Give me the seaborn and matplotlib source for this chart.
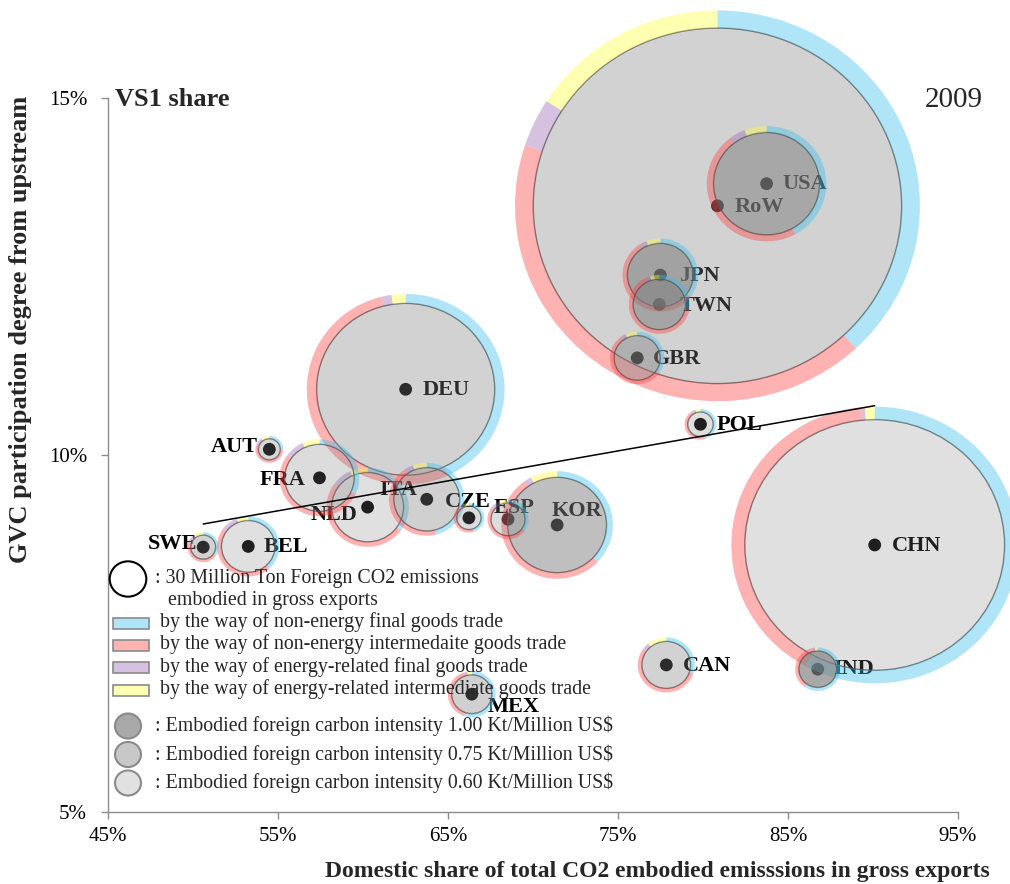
import numpy as np
import pandas as pd
import matplotlib
matplotlib.use("Agg")
import matplotlib.pyplot as plt
import matplotlib.transforms as mtransforms
from matplotlib.patches import Circle, Wedge, Rectangle
from matplotlib.ticker import FuncFormatter
import seaborn as sns

# ---------------- data ----------------
countries = ["RoW", "USA", "JPN", "TWN", "GBR", "DEU", "AUT", "FRA", "NLD", "ITA",
             "CZE", "ESP", "KOR", "POL", "CHN", "IND", "CAN", "MEX", "SWE", "BEL"]
domestic_share = [80.85, 83.74, 77.49, 77.43, 76.13, 62.51, 54.49, 57.44, 60.27, 63.75,
                  66.23, 68.53, 71.42, 79.85, 90.10, 86.75, 77.84, 66.40, 50.60, 53.25]
vs1_share = [13.49, 13.80, 12.52, 12.11, 11.36, 10.92, 10.08, 9.68, 9.27, 9.38,
             9.12, 9.10, 9.02, 10.43, 8.74, 7.00, 7.06, 6.65, 8.71, 8.72]
foreign_co2_mt = [302, 87, 54, 43, 38, 146, 18, 57, 59, 54,
                  20, 28, 81, 21, 213, 31, 40, 33, 20.5, 44]
carbon_intensity = [0.69, 0.84, 0.90, 0.87, 0.73, 0.69, 0.66, 0.63, 0.61, 0.70,
                    0.64, 0.63, 0.82, 0.62, 0.61, 1.00, 0.69, 0.70, 0.69, 0.61]
share_nonenergy_final = [0.38, 0.42, 0.35, 0.28, 0.35, 0.43, 0.25, 0.32, 0.35, 0.46,
                         0.45, 0.35, 0.37, 0.45, 0.58, 0.60, 0.30, 0.55, 0.35, 0.38]
share_nonenergy_inter = [0.42, 0.475, 0.56, 0.65, 0.55, 0.53, 0.55, 0.53, 0.50, 0.44,
                         0.45, 0.50, 0.53, 0.45, 0.405, 0.37, 0.55, 0.40, 0.45, 0.47]
share_energy_final = [0.04, 0.045, 0.03, 0.02, 0.03, 0.017, 0.10, 0.08, 0.08, 0.04,
                      0.04, 0.08, 0.022, 0.05, 0.004, 0.01, 0.04, 0.02, 0.10, 0.09]
share_energy_inter = [0.16, 0.06, 0.06, 0.05, 0.07, 0.023, 0.10, 0.07, 0.07, 0.06,
                      0.06, 0.07, 0.078, 0.05, 0.011, 0.02, 0.11, 0.03, 0.10, 0.06]
x_ticks = [45, 55, 65, 75, 85, 95]
y_ticks = [5, 10, 15]
legend_size_mt = 30
legend_intensities = [1.00, 0.75, 0.60]
channel_labels = ["by the way of non-energy final goods trade",
                  "by the way of non-energy intermedaite goods trade",
                  "by the way of energy-related final goods trade",
                  "by the way of energy-related intermediate goods trade"]

df = pd.DataFrame({"country": countries, "x": domestic_share, "y": vs1_share,
                   "co2": foreign_co2_mt, "intensity": carbon_intensity,
                   "s1": share_nonenergy_final, "s2": share_nonenergy_inter,
                   "s3": share_energy_final, "s4": share_energy_inter})

# ---------------- style ----------------
W, H = 1010, 884
sns.set_theme(style="ticks")
plt.rcParams["font.family"] = ["Liberation Serif", "DejaVu Serif"]
plt.rcParams["mathtext.default"] = "regular"

ring_colors = [(0.225, 0.75, 0.925, 0.4), (1.0, 0.25, 0.25, 0.4),
               (0.6, 0.4, 0.7, 0.4), (1.0, 1.0, 0.25, 0.4)]
PX_PER_MT = 18.3 / 30.0      # radius in pixels per Mt
SQUISH = 0.965


def fill_alpha(v):
    return float(np.interp(v, [0.6, 0.75, 1.0], [0.23, 0.43, 0.68]))


fig = plt.figure(figsize=(W / 100, H / 100), dpi=100)
ax = fig.add_axes([108 / W, (H - 812) / H, 850 / W, 714 / H])
ax.set_xlim(45, 95)
ax.set_ylim(5, 15)

label_style = {  # dx, dy (pixels, image orientation), ha
    "USA": (16, 0, "left"), "RoW": (17, 1, "left"), "JPN": (19, 1, "left"),
    "TWN": (20, 2, "left"), "GBR": (16, 1, "left"), "DEU": (17, 1, "left"),
    "POL": (16, 1, "left"), "CHN": (17, 1, "left"), "IND": (16, 0, "left"),
    "CAN": (17, 1, "left"), "MEX": (16, 13, "left"), "KOR": (-6, -14, "left"),
    "ESP": (-14, -11, "left"), "CZE": (-24, -16, "left"), "ITA": (-10, -9, "right"),
    "NLD": (-10, 8, "right"), "FRA": (-14, 2, "right"), "AUT": (-12, -2, "right"),
    "SWE": (-6, -3, "right"), "BEL": (15, 1, "left"),
}

# labels (drawn beneath the translucent bubbles)
for _, row in df.iterrows():
    dx, dy, ha = label_style[row.country]
    ax.annotate(row.country, (row.x, row.y), xytext=(dx, -dy), textcoords="offset pixels",
                ha=ha, va="center", fontsize=16, fontweight="bold", color="black",
                zorder=1, annotation_clip=False)

# centre dots
sns.scatterplot(data=df, x="x", y="y", ax=ax, color="black", s=85,
                edgecolor="none", zorder=1.5, legend=False)

# bubbles
order = df.sort_values("co2", ascending=False).index
for rank, i in enumerate(order):
    row = df.loc[i]
    r = row.co2 * PX_PER_MT
    tr = mtransforms.Affine2D().scale(1.0, SQUISH) + \
        mtransforms.ScaledTranslation(row.x, row.y, ax.transData)
    z = 3 + rank * 0.01
    fill = Circle((0, 0), r, facecolor=(0.5, 0.5, 0.5, fill_alpha(row.intensity)),
                  edgecolor=(0.3, 0.3, 0.3, 0.75), lw=1.0, transform=tr,
                  clip_on=False, zorder=z)
    ax.add_artist(fill)
    shares = [row.s1, row.s2, row.s3, row.s4]
    shares = np.array(shares) / np.sum(shares)
    width = 0.088 * r + 2.0
    start = 0.0
    for sh, col in zip(shares, ring_colors):
        end = start + sh * 360
        w = Wedge((0, 0), r + width, 90 - end, 90 - start, width=width,
                  facecolor=col, edgecolor="none", transform=tr, clip_on=False,
                  zorder=z + 0.001)
        ax.add_artist(w)
        start = end

# trend line (OLS over all economies)
sns.regplot(data=df, x="x", y="y", ax=ax, scatter=False, ci=None, truncate=True,
            line_kws=dict(color="black", lw=1.1, zorder=20))

# axes styling
sns.despine(ax=ax)
for sp in ["left", "bottom"]:
    ax.spines[sp].set_color("#8c8c8c")
    ax.spines[sp].set_linewidth(1.0)
ax.set_xticks(x_ticks)
ax.set_yticks(y_ticks)
pct = FuncFormatter(lambda v, p: f"{v:.0f}%")
ax.xaxis.set_major_formatter(pct)
ax.yaxis.set_major_formatter(pct)
ax.tick_params(axis="both", direction="out", length=5, width=1, color="#8c8c8c",
               labelsize=15, labelcolor="black")
ax.tick_params(axis="y", pad=10)
ax.tick_params(axis="x", pad=6)
ax.set_xlabel("Domestic share of total CO2 embodied emisssions in gross exports",
              fontsize=17, fontweight="bold", ha="right", va="center")
ax.xaxis.set_label_coords((990 - 108) / 850, (812 - 871) / 714)
ax.set_ylabel("GVC participation degree from upstream", fontsize=19,
              fontweight="bold", ha="right", va="center")
ax.yaxis.set_label_coords((21 - 108) / 850, (812 - 96) / 714)

ax.text((115 - 108) / 850, (812 - 100) / 714, "VS1 share", transform=ax.transAxes,
        fontsize=19, fontweight="bold", ha="left", va="center")
ax.text((983 - 108) / 850, (812 - 100) / 714, "2009", transform=ax.transAxes,
        fontsize=21, ha="right", va="center")

# ---------------- custom legend (figure pixel positions) ----------------
ident = mtransforms.IdentityTransform()


def at(x, y):
    return mtransforms.Affine2D().scale(1.0, SQUISH).translate(x, H - y)


def ftext(x, y, s, **kw):
    fig.text(x / W, 1 - y / H, s, ha="left", va="center", fontsize=14.3, **kw)


r_leg = legend_size_mt * PX_PER_MT
fig.add_artist(Circle((0, 0), r_leg, facecolor="white", edgecolor="black", lw=1.5,
                      transform=at(128, 579), zorder=30))
ftext(155, 578, ": 30 Million Ton Foreign CO2 emissions")
ftext(168, 601, "embodied in gross exports")

for k, (lab, col) in enumerate(zip(channel_labels, ring_colors)):
    yc = 623 + k * 22.4
    fig.add_artist(Rectangle((113, H - yc - 5.5), 36, 11, facecolor=col,
                             edgecolor="#8a8a8a", lw=1.2, transform=ident, zorder=30))
    ftext(160, yc - 1, lab)

for k, v in enumerate(legend_intensities):
    yc = 726 + k * 28.5
    fig.add_artist(Circle((0, 0), 13, facecolor=(0.5, 0.5, 0.5, fill_alpha(v)),
                          edgecolor="#8a8a8a", lw=1.5, transform=at(128, yc), zorder=30))
    ftext(155, yc, f": Embodied foreign carbon intensity {v:.2f} Kt/Million US$")

fig.savefig("out.png", dpi=100, facecolor="white")
